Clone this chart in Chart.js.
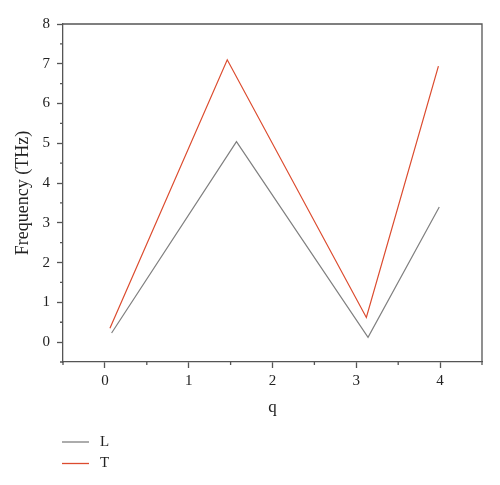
<!DOCTYPE html>
<html lang="en">
<head>
    <meta charset="UTF-8">
    <title>Frequency vs q</title>
    <script src="https://cdn.jsdelivr.net/npm/chart.js@4.4.0/dist/chart.umd.min.js"></script>
    <style>
        html, body { margin: 0; padding: 0; background: #fff; }
        #wrap { width: 500px; height: 485px; }
    </style>
</head>
<body>
    <div id="wrap"><canvas id="chart" width="500" height="485"></canvas></div>

    <script>
        // Data
        const seriesNames = ['L', 'T'];
        const qL = [0.08, 1.57, 3.14, 3.99];
        const freqL = [0.23, 5.04, 0.12, 3.40];
        const qT = [0.06, 1.46, 3.12, 3.98];
        const freqT = [0.35, 7.10, 0.62, 6.94];
        const xTicks = [0, 1, 2, 3, 4];
        const yTicks = [0, 1, 2, 3, 4, 5, 6, 7, 8];

        const colors = ['#7f7f7f', '#dc4b2e'];
        const serif = '"Liberation Serif", "DejaVu Serif", serif';
        const axisColor = '#555';

        function toPoints(xs, ys) {
            return xs.map((x, i) => ({ x: x, y: ys[i] }));
        }

        // Short minor ticks halfway between the major ones, plus the box and legend
        const extrasPlugin = {
            id: 'extras',
            afterDraw(chart) {
                const ctx = chart.ctx;
                const area = chart.chartArea;
                const xs = chart.scales.x;
                const ys = chart.scales.y;
                ctx.save();
                ctx.strokeStyle = axisColor;
                ctx.lineWidth = 1.3;
                ctx.beginPath();
                for (let v = xs.min; v <= xs.max + 1e-9; v += 1) {
                    const px = xs.getPixelForValue(v);
                    ctx.moveTo(px, area.bottom);
                    ctx.lineTo(px, area.bottom + 3);
                }
                for (let v = ys.min; v <= ys.max; v += 1) {
                    const py = ys.getPixelForValue(v);
                    ctx.moveTo(area.left, py);
                    ctx.lineTo(area.left - 3, py);
                }
                ctx.stroke();

                // top and right frame
                ctx.beginPath();
                ctx.moveTo(area.left, area.top);
                ctx.lineTo(area.right, area.top);
                ctx.lineTo(area.right, area.bottom);
                ctx.stroke();

                // legend, one item per row
                ctx.font = '15px ' + serif;
                ctx.textBaseline = 'middle';
                ctx.fillStyle = '#222';
                chart.data.datasets.forEach((ds, i) => {
                    const y = 442 + i * 21.5;
                    ctx.strokeStyle = ds.borderColor;
                    ctx.lineWidth = 1.3;
                    ctx.beginPath();
                    ctx.moveTo(62, y);
                    ctx.lineTo(89, y);
                    ctx.stroke();
                    ctx.fillText(ds.label, 100, y);
                });
                ctx.restore();
            }
        };

        const ctx = document.getElementById('chart').getContext('2d');
        new Chart(ctx, {
            type: 'scatter',
            data: {
                datasets: [
                    {
                        label: seriesNames[0],
                        data: toPoints(qL, freqL),
                        showLine: true,
                        borderColor: colors[0],
                        borderWidth: 1.2,
                        pointRadius: 0,
                        tension: 0
                    },
                    {
                        label: seriesNames[1],
                        data: toPoints(qT, freqT),
                        showLine: true,
                        borderColor: colors[1],
                        borderWidth: 1.2,
                        pointRadius: 0,
                        tension: 0
                    }
                ]
            },
            options: {
                responsive: false,
                animation: false,
                layout: { padding: { left: 0, top: 24, right: 18, bottom: 60 } },
                plugins: {
                    legend: { display: false },
                    tooltip: { enabled: false }
                },
                scales: {
                    x: {
                        type: 'linear',
                        min: -0.5,
                        max: 4.5,
                        afterBuildTicks: (scale) => { scale.ticks = xTicks.map((v) => ({ value: v })); },
                        afterFit: (scale) => { scale.height = 63; },
                        grid: {
                            drawOnChartArea: false,
                            drawTicks: true,
                            tickLength: 6,
                            tickColor: axisColor,
                            tickWidth: 1.3
                        },
                        border: { display: true, color: axisColor, width: 1.3 },
                        ticks: {
                            padding: 4,
                            color: '#222',
                            font: { family: serif, size: 15 }
                        },
                        title: {
                            display: true,
                            text: 'q',
                            color: '#222',
                            font: { family: serif, size: 17 },
                            padding: { top: 0, bottom: 7 }
                        }
                    },
                    y: {
                        type: 'linear',
                        min: -0.5,
                        max: 8,
                        afterBuildTicks: (scale) => { scale.ticks = yTicks.map((v) => ({ value: v })); },
                        afterFit: (scale) => { scale.width = 63; },
                        grid: {
                            drawOnChartArea: false,
                            drawTicks: true,
                            tickLength: 6,
                            tickColor: axisColor,
                            tickWidth: 1.3
                        },
                        border: { display: true, color: axisColor, width: 1.3 },
                        ticks: {
                            padding: 7,
                            color: '#222',
                            font: { family: serif, size: 15 }
                        },
                        title: {
                            display: true,
                            text: 'Frequency (THz)',
                            color: '#222',
                            font: { family: serif, size: 18 },
                            padding: { top: 12, bottom: 0 }
                        }
                    }
                }
            },
            plugins: [extrasPlugin]
        });
    </script>
</body>
</html>
